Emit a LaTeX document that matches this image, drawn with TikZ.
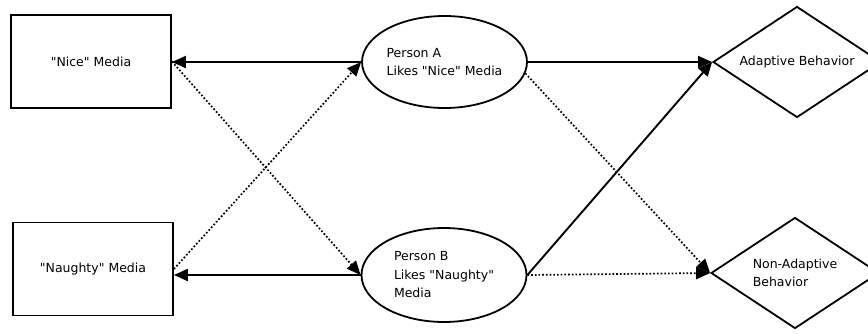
\documentclass[tikz,border=0pt]{standalone}
\usepackage{fontspec}
\setmainfont{DejaVu Sans}
\usepackage{xcolor}
\usepackage{tikz}
\usetikzlibrary{shapes.geometric,arrows.meta}
\definecolor{ink}{HTML}{000000}
\definecolor{paper}{HTML}{FFFFFF}
\newcommand{\dq}{\textquotedbl}
\tikzset{
  lab/.style={text=ink, font=\fontsize{12.5}{18.5}\selectfont},
  media/.style={lab, draw=ink, line width=1.8pt, rectangle, minimum width=160pt, minimum height=93pt},
  person/.style={lab, draw=ink, line width=1.8pt, ellipse, minimum width=165pt, minimum height=92pt, align=left, inner sep=0pt},
  outcome/.style={lab, draw=ink, line width=1.8pt, diamond, aspect=1.5, minimum width=168pt, minimum height=111pt, align=left, inner sep=0pt},
  link/.style={draw=ink, line width=1.9pt, -{Triangle[length=14pt,width=12pt]}},
  weak/.style={link, line width=1.7pt, dotted}
}
\begin{document}
\begin{tikzpicture}[x=1pt,y=-1pt]
  \useasboundingbox[fill=paper] (0,0) rectangle (868,333);
  % media
  \node[media] (nice) at (91,61.5) {\dq Nice\dq{} Media};
  \node[media] (naughty) at (93,269) {\dq Naughty\dq{} Media};
  % persons
  \node[person] (pa) at (444.5,62) {Person A\\Likes \dq Nice\dq{} Media};
  \node[person,minimum height=94pt] (pb) at (444,275) {Person B\\Likes \dq Naughty\dq\\Media};
  % behaviour
  \node[outcome] (adapt) at (797,62) {Adaptive Behavior};
  \node[outcome] (nonadapt) at (795,273) {Non-Adaptive\\Behavior};
  % links
  \draw[link] (pa.west) -- (pa.west -| nice.east);
  \draw[link] (pb.west) -- (pb.west -| naughty.east);
  \draw[weak] (nice.east) -- (pb.west);
  \draw[weak] (naughty.east) -- (pa.west);
  \draw[link] (pa.east) -- (adapt.west);
  \draw[link] (pb.east) -- (adapt.west);
  \draw[weak] (pa.-8) -- (nonadapt.west);
  \draw[weak] (pb.east) -- (nonadapt.west);
\end{tikzpicture}
\end{document}
